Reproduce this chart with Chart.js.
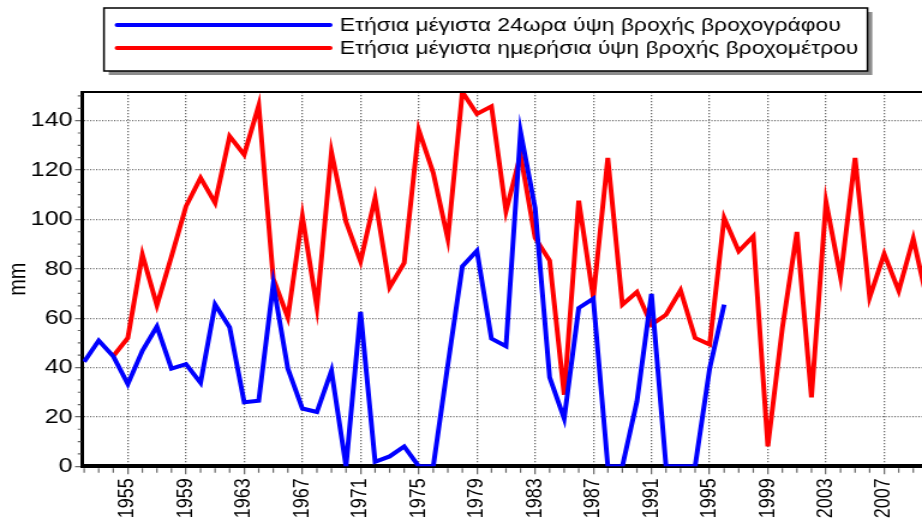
<!DOCTYPE html>
<html>
<head>
<meta charset="utf-8">
<script src="https://cdn.jsdelivr.net/npm/chart.js@4.4.0/dist/chart.umd.min.js"></script>
<style>
  html, body { margin: 0; padding: 0; background: #fff; overflow: hidden; }
  canvas { display: block; }
</style>
</head>
<body>
<!-- drawn at 768 wide, shown at 922 (the reference is stretched the same way) -->
<canvas id="chart" width="768" height="530" style="width:922px;height:530px"></canvas>
<script>
const years = [1952, 1953, 1954, 1955, 1956, 1957, 1958, 1959, 1960, 1961,
  1962, 1963, 1964, 1965, 1966, 1967, 1968, 1969, 1970, 1971,
  1972, 1973, 1974, 1975, 1976, 1977, 1978, 1979, 1980, 1981,
  1982, 1983, 1984, 1985, 1986, 1987, 1988, 1989, 1990, 1991,
  1992, 1993, 1994, 1995, 1996, 1997, 1998, 1999, 2000, 2001,
  2002, 2003, 2004, 2005, 2006, 2007, 2008, 2009, 2010];

// 24h maxima from the recording gauge (stops after 1996)
const recorderMax = [42.3, 50.9, 44.6, 33.3, 46.8, 56.6, 39.6, 41.4, 33.8, 65.5,
  56.3, 25.9, 26.6, 73.8, 39.6, 23.4, 22.0, 38.7, 0, 62.5,
  1.8, 4.0, 8.0, 0, 0, 41, 81.0, 87.3, 51.7, 48.6,
  135.4, 104.6, 36.0, 19.3, 64.1, 67.9, 0, 0, 26.3, 69.8,
  0, 0, 0, 39.6, 65.5, null, null, null, null, null,
  null, null, null, null, null, null, null, null, null];

// daily maxima from the standard rain gauge (starts 1954)
const gaugeMax = [null, null, 44.6, 52.0, 85.7, 65.2, 85, 105.3, 116.8, 106.7,
  133.7, 126.2, 146.2, 76.0, 60.3, 101.3, 64.4, 127.3, 99.0, 83.0,
  108.7, 72.5, 82.4, 136.2, 118.8, 92.1, 151.6, 142.7, 145.8, 103.3,
  126.2, 92.5, 83.3, 29.0, 107.6, 68.4, 124.9, 65.5, 70.6, 57.4,
  61.4, 71.3, 52.0, 49.3, 100.6, 87.1, 93.2, 8.1, 56, 94.9,
  27.9, 107.1, 76.5, 124.9, 68.4, 86.0, 71.1, 92.2, 66];

const seriesNames = ['Ετήσια μέγιστα 24ωρα ύψη βροχής βροχογράφου',
  'Ετήσια μέγιστα ημερήσια ύψη βροχής βροχομέτρου'];
const seriesColors = ['#0000ff', '#ff0000'];
const xTickYears = [1955, 1959, 1963, 1967, 1971, 1975, 1979, 1983, 1987, 1991, 1995, 1999, 2003, 2007];
const yTickValues = [0, 20, 40, 60, 80, 100, 120, 140];

const FONT = "'Liberation Sans', Arial, sans-serif";
const GRID = '#6e6e6e';

function toPoints(values) {
    return years.map((yr, i) => ({ x: yr, y: values[i] }));
}

// box legend with shadow, minor ticks and the top frame line
const decorations = {
    id: 'decorations',
    afterDraw(chart) {
        const ctx = chart.ctx;
        const area = chart.chartArea;
        const xs = chart.scales.x;
        const ys = chart.scales.y;

        ctx.save();
        // top frame
        ctx.strokeStyle = '#000';
        ctx.lineWidth = 2;
        ctx.beginPath();
        ctx.moveTo(area.left, area.top);
        ctx.lineTo(area.right, area.top);
        ctx.stroke();

        // minor ticks
        ctx.strokeStyle = '#666';
        ctx.lineWidth = 1.2;
        ctx.beginPath();
        for (let yr = Math.ceil(xs.min); yr <= xs.max; yr++) {
            if (xTickYears.includes(yr)) continue;
            const px = xs.getPixelForValue(yr);
            ctx.moveTo(px, area.bottom + 2);
            ctx.lineTo(px, area.bottom + 6.5);
        }
        for (let v = 5; v <= ys.max; v += 5) {
            if (v % 20 === 0) continue;
            const py = ys.getPixelForValue(v);
            ctx.moveTo(area.left - 1.5, py);
            ctx.lineTo(area.left - 4.2, py);
        }
        ctx.stroke();

        // legend box
        const box = { x: 86.6, y: 8, w: 636, h: 63 };
        ctx.fillStyle = '#8c8c8c';
        ctx.fillRect(box.x + 4, box.y + 4, box.w, box.h);
        ctx.fillStyle = '#fff';
        ctx.fillRect(box.x, box.y, box.w, box.h);
        ctx.strokeStyle = '#000';
        ctx.lineWidth = 1.5;
        ctx.strokeRect(box.x, box.y, box.w, box.h);

        ctx.font = '19px ' + FONT;
        ctx.textBaseline = 'middle';
        ctx.textAlign = 'left';
        chart.data.datasets.forEach((ds, i) => {
            const rowY = 25 + i * 23;
            ctx.strokeStyle = ds.borderColor;
            ctx.lineWidth = 4;
            ctx.lineCap = 'round';
            ctx.beginPath();
            ctx.moveTo(97.5, rowY);
            ctx.lineTo(275, rowY);
            ctx.stroke();
            ctx.fillStyle = '#000';
            ctx.fillText(ds.label, 283, rowY + 1);
        });
        ctx.restore();
    }
};

new Chart(document.getElementById('chart'), {
    type: 'line',
    data: {
        datasets: [
            { label: seriesNames[0], data: toPoints(recorderMax), borderColor: seriesColors[0], borderWidth: 4, pointRadius: 0, tension: 0 },
            { label: seriesNames[1], data: toPoints(gaugeMax), borderColor: seriesColors[1], borderWidth: 4, pointRadius: 0, tension: 0 }
        ]
    },
    options: {
        responsive: false,
        devicePixelRatio: 1,
        animation: false,
        events: [],
        layout: { padding: { top: 92, left: 0, right: 0, bottom: 0 } },
        plugins: {
            legend: { display: false },
            tooltip: { enabled: false }
        },
        scales: {
            x: {
                type: 'linear',
                min: 1951.9,
                max: 2009.6,
                afterBuildTicks: s => { s.ticks = xTickYears.map(v => ({ value: v })); },
                afterFit: s => { s.height = 63.7; },
                ticks: {
                    autoSkip: false,
                    minRotation: 90,
                    maxRotation: 90,
                    padding: 4,
                    color: '#000',
                    font: { family: FONT, size: 18 },
                    callback: v => String(v)
                },
                grid: { color: GRID, lineWidth: 1.3, tickLength: 8, tickColor: '#666', tickWidth: 1.2 },
                border: { color: '#000', width: 4, dash: [1.2, 1.8] }
            },
            y: {
                min: 0,
                max: 151.6,
                afterBuildTicks: s => { s.ticks = yTickValues.map(v => ({ value: v })); },
                afterFit: s => { s.width = 68.9; },
                ticks: {
                    padding: 2,
                    color: '#000',
                    font: { family: FONT, size: 21 }
                },
                grid: {
                    color: c => (c.tick && c.tick.value === 0) ? 'rgba(0,0,0,0)' : GRID,
                    lineWidth: 1.3,
                    tickLength: 6.4,
                    tickColor: '#666',
                    tickWidth: 1.2
                },
                border: { color: '#000', width: 3, dash: [1.1, 1.4] },
                title: { display: true, text: 'mm', color: '#000', font: { family: FONT, size: 20 }, padding: { top: 3, bottom: 0 } }
            }
        }
    },
    plugins: [decorations]
});
</script>
</body>
</html>
